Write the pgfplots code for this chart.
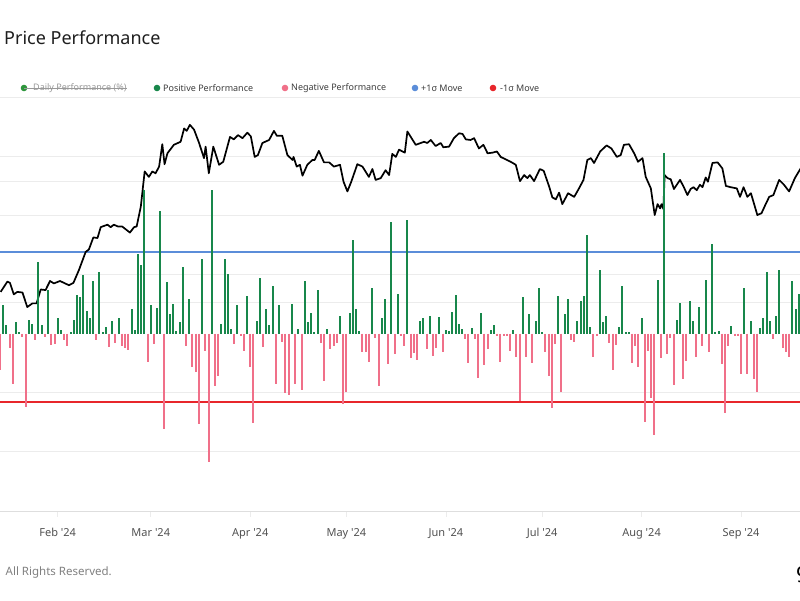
\documentclass[border=0pt]{standalone}
\usepackage{pgfplots}
\pgfplotsset{compat=1.18}
\usepackage{fontspec}
\setmainfont{Noto Sans}
\definecolor{posgreen}{RGB}{24,135,75}
\definecolor{negpink}{RGB}{240,112,137}
\definecolor{sigblue}{RGB}{91,141,217}
\definecolor{minusred}{RGB}{232,38,43}
\definecolor{dailygreen}{RGB}{46,150,60}
\definecolor{gridc}{RGB}{236,236,236}
\definecolor{axisc}{RGB}{222,222,222}
\definecolor{labc}{RGB}{80,80,80}
\definecolor{legc}{RGB}{60,60,60}
\definecolor{titlec}{RGB}{30,30,30}
\pgfplotsset{base/.style={at={(0pt,89pt)}, anchor=south west, width=800pt, height=414pt,
  scale only axis, xmin=13, xmax=262.4, clip=true}}
\begin{document}
\begin{tikzpicture}[x=1pt,y=1pt]
\path[use as bounding box] (0,0) rectangle (800,600);
% grid axis
\begin{axis}[base, ymin=-12, ymax=16,
  axis x line*=bottom, axis y line*=left,
  y axis line style={draw=none}, ytick style={draw=none}, yticklabels={},
  ytick={-8,-4,2.14,4,8,10.27,12,16}, ymajorgrids,
  major grid style={draw=gridc, line width=0.8pt},
  x axis line style={draw=axisc, line width=0.8pt, -},
  xtick={31,60,91,121,152,182,213,244},
  xticklabels={Feb \textquotesingle24, Mar \textquotesingle24, Apr \textquotesingle24, May \textquotesingle24, Jun \textquotesingle24, Jul \textquotesingle24, Aug \textquotesingle24, Sep \textquotesingle24},
  xtick style={draw=gridc, line width=0.6pt}, tick align=outside, major tick length=6pt,
  xticklabel style={font=\fontsize{11}{13}\selectfont, text=labc, yshift=-8pt},
  /pgf/number format/assume math mode=true]
\addplot[draw=none] coordinates {(13,0)};
\end{axis}
% sigma lines
\begin{axis}[base, ymin=-12, ymax=16, hide axis]
\addplot[draw=minusred, line width=2pt] table[row sep=\\] {x y\\ 12 -4.6\\ 263 -4.6\\};
\addplot[draw=sigblue, line width=2pt] table[row sep=\\] {x y\\ 12 5.5\\ 263 5.5\\};
\end{axis}
% price axis
\begin{axis}[base, ymin=5.8, ymax=74.2, hide axis]
\addplot[black, line width=1.7pt, line join=round] coordinates {
(13.2,42.0)(15.3,43.7)(16.1,43.5)(17.3,41.6)(18.4,42.0)(20.0,41.9)(21.5,39.5)(23.1,40.1)(24.4,40.1)(25.7,42.4)
(27.2,42.3)(28.6,43.8)(29.8,43.4)(31.7,43.8)(32.9,43.5)(34.5,43.1)(35.9,43.5)(37.6,45.6)(39.7,48.6)(40.7,49.0)
(42.1,51.0)(43.4,50.9)(44.4,52.7)(46.5,53.1)(47.5,52.7)(48.5,53.1)(49.8,52.8)(51.1,52.8)(53.5,51.8)(54.8,52.7)
(55.6,52.8)(56.9,56.1)(58.1,61.9)(59.4,61.0)(60.5,61.9)(61.5,61.6)(62.6,62.7)(63.6,66.4)(64.3,63.1)(65.2,64.9)
(67.2,66.3)(69.3,66.8)(70.4,69.0)(71.2,68.6)(72.2,69.6)(73.5,68.8)(75.0,66.7)(76.6,64.1)(77.1,66.0)(78.1,61.6)
(79.5,66.0)(81.3,63.0)(82.6,63.5)(84.7,67.6)(85.9,67.2)(87.2,67.9)(88.6,67.4)(90.1,68.3)(91.2,67.7)(92.4,64.3)
(93.4,64.6)(94.8,66.6)(96.9,67.1)(98.4,68.6)(99.3,67.8)(101.0,67.8)(102.6,64.6)(104.2,63.8)(104.5,64.3)(105.5,62.7)
(106.5,63.0)(107.3,61.2)(108.8,63.0)(110.4,63.8)(111.1,63.8)(112.4,65.3)(114.0,63.4)(115.6,63.4)(117.1,62.7)(119.0,63.0)
(120.1,60.2)(121.3,58.6)(122.5,60.2)(124.4,63.1)(126.0,62.7)(128.0,61.0)(129.1,62.3)(130.1,60.5)(131.7,60.8)(133.2,62.1)
(134.3,61.3)(135.3,64.8)(136.4,64.3)(137.4,65.5)(139.2,65.0)(140.0,68.5)(142.6,66.3)(145.2,66.8)(146.2,66.6)(147.3,67.1)
(148.8,66.1)(150.4,66.6)(151.2,65.9)(153.0,66.0)(154.5,67.4)(156.1,68.2)(157.2,68.1)(158.2,67.2)(159.7,67.1)(160.8,67.4)
(162.3,65.7)(163.7,66.3)(165.0,64.9)(166.5,65.0)(167.9,65.2)(169.1,64.3)(171.0,63.8)(172.2,63.5)(173.8,63.0)(175.1,60.3)
(176.4,61.3)(177.4,60.8)(178.2,61.3)(179.5,60.3)(181.3,62.3)(182.5,62.0)(184.2,59.4)(185.2,57.6)(186.3,57.3)(187.3,58.4)
(188.3,56.5)(190.1,58.3)(192.0,57.7)(193.5,59.1)(194.9,60.5)(196.1,63.8)(197.2,64.1)(198.2,63.3)(200.1,65.2)(202.1,66.2)
(203.6,65.7)(205.3,64.3)(206.5,64.6)(207.5,66.3)(209.1,66.4)(210.7,64.9)(211.9,63.5)(213.3,64.1)(214.3,61.0)(215.9,59.1)
(217.1,54.7)(218.0,56.5)(218.8,55.8)(219.2,56.5)(219.8,55.7)(220.2,61.3)(221.1,60.8)(222.1,60.6)(223.1,59.0)(225.0,60.5)
(226.1,59.4)(227.3,58.0)(228.3,59.0)(229.2,59.3)(230.2,58.8)(231.2,59.7)(232.0,59.3)(233.0,60.9)(233.7,60.2)(235.1,63.3)
(236.7,63.4)(238.2,62.4)(239.3,59.5)(240.8,59.3)(242.7,59.1)(243.7,57.7)(244.8,59.3)(246.0,57.7)(247.1,58.3)(249.1,54.7)
(250.4,55.0)(251.7,56.5)(252.8,57.7)(254.1,58.0)(255.9,60.5)(257.4,59.7)(259.0,58.6)(260.8,60.8)(262.6,62.4)
};
\end{axis}
% performance bars
\begin{axis}[base, ymin=-12, ymax=16, hide axis]
\addplot[ycomb, draw=posgreen, line width=2pt, mark=none] coordinates {
(14,1.93)(15,0.58)(18,0.81)(19,0.14)(22,0.95)(23,0.64)(25,4.81)(26,0.58)(28,2.92)(31,1.02)(32,0.27)(35,0.14)(36,0.95)
(37,2.61)(38,2.44)(39,3.93)(40,1.56)(41,1.05)(42,3.53)(44,4.14)(45,0.14)(46,0.47)(48,0.88)(50,1.02)(54,1.66)(55,0.27)
(56,5.39)(57,4.61)(58,9.69)(60,1.93)(62,1.76)(63,8.27)(65,3.46)(66,1.29)(67,2.03)(68,0.2)(69,0.75)(70,4.47)(72,2.34)
(76,5.05)(79,9.73)(82,0.68)(83,5.02)(84,4.0)(85,0.3)(87,1.9)(90,2.51)(93,0.88)(94,3.73)(96,1.69)(97,0.61)(98,3.19)(100,1.9)
(104,1.97)(106,0.34)(108,3.56)(109,0.75)(110,1.36)(111,0.14)(112,2.92)(115,0.34)(119,1.22)(122,1.39)(123,6.34)(124,1.63)
(125,0.2)(129,3.08)(132,1.08)(133,2.31)(135,7.53)(137,2.68)(140,7.66)(144,0.88)(145,1.02)(147,1.22)(150,1.15)(152,0.27)
(153,0.2)(154,1.49)(155,2.61)(156,0.68)(157,0.3)(160,0.41)(163,1.36)(166,0.27)(167,0.61)(173,0.27)(176,2.44)(178,1.29)(180,0.88)
(181,3.08)(182,0.14)(187,2.51)(189,1.29)(190,2.31)(193,0.88)(194,2.2)(195,2.51)(196,6.64)(197,0.47)(200,4.27)(201,0.75)
(202,1.22)(206,0.47)(207,3.25)(208,0.14)(209,0.14)(213,1.02)(218,3.63)(220,12.24)(224,0.95)(225,2.07)(228,2.2)(229,0.85)
(231,1.8)(233,3.59)(235,6.03)(236,0.14)(237,0.2)(241,0.54)(245,3.05)(247,0.85)(250,0.41)(251,1.08)(252,4.14)(253,0.88)
(255,1.22)(256,4.27)(260,3.53)(261,1.63)(262,2.68)
};
\addplot[ycomb, draw=negpink, line width=2pt, mark=none] coordinates {
(13,-2.44)(16,-0.98)(17,-3.42)(20,-0.2)(21,-4.95)(24,-0.41)(27,-0.2)(29,-0.75)(30,-0.68)(33,-0.41)(34,-0.81)(43,-0.41)
(47,-0.92)(49,-0.61)(51,-0.81)(52,-0.98)(53,-1.12)(59,-1.93)(61,-0.68)(64,-6.47)(71,-0.85)(73,-2.27)(74,-2.58)(75,-6.14)
(77,-1.19)(78,-8.68)(80,-3.53)(81,-2.85)(86,-0.68)(88,-0.14)(89,-1.15)(91,-2.27)(92,-6.07)(95,-0.92)(99,-3.39)(101,-0.59)
(102,-4.0)(103,-4.14)(105,-3.39)(107,-3.8)(113,-0.61)(114,-3.19)(116,-1.02)(117,-0.81)(118,-0.61)(120,-4.75)(121,-3.93)
(126,-1.27)(127,-1.27)(128,-1.9)(130,-0.3)(131,-3.53)(134,-2.03)(136,-1.36)(138,-0.14)(139,-0.86)(141,-1.67)(142,-1.34)
(143,-1.76)(146,-1.02)(148,-1.49)(149,-1.0)(151,-1.22)(158,-0.34)(159,-1.97)(161,-0.34)(162,-3.03)(164,-2.1)(165,-1.02)
(168,-0.14)(169,-1.95)(170,-0.14)(171,-0.14)(172,-1.15)(174,-1.61)(175,-4.54)(177,-1.61)(179,-1.97)(183,-1.22)(184,-2.85)
(185,-5.0)(186,-0.68)(188,-3.93)(191,-0.41)(192,-0.59)(198,-1.61)(199,-0.14)(203,-0.61)(204,-2.44)(205,-0.75)(210,-2.01)
(211,-0.81)(212,-2.24)(214,-6.01)(215,-1.15)(216,-4.34)(217,-6.85)(219,-1.67)(221,-1.36)(222,-0.3)(223,-3.46)(226,-3.05)
(227,-1.83)(230,-1.61)(232,-0.81)(234,-1.27)(238,-2.03)(239,-5.34)(240,-0.81)(242,-0.14)(243,-0.14)(244,-2.71)(246,-2.71)
(248,-3.05)(249,-3.93)(254,-0.34)(257,-1.0)(258,-1.27)(259,-1.61)
};
\end{axis}
% title
\node[anchor=base west, inner sep=0pt, font=\fontsize{18}{22}\selectfont, text=titlec] at (4,555) {Price Performance};
% legend
\begin{scope}[font=\fontsize{9}{11}\selectfont]
\fill[dailygreen] (24,512) circle (3.3);
\node[anchor=west, inner sep=0pt, text=gray!80] (d1) at (33,512) {Daily Performance (\%)};
\draw[gray!80, line width=0.5pt] (24,512) -- (d1.east);
\fill[posgreen] (157,512) circle (3.3);
\node[anchor=west, inner sep=0pt, text=legc] at (163,512) {Positive Performance};
\fill[negpink] (285,512) circle (3.3);
\node[anchor=west, inner sep=0pt, text=legc] at (291,512) {Negative Performance};
\fill[sigblue] (415,512) circle (3.3);
\node[anchor=west, inner sep=0pt, text=legc] at (421,512) {+1σ Move};
\fill[minusred] (493,512) circle (3.3);
\node[anchor=west, inner sep=0pt, text=legc] at (500,512) {-1σ Move};
\end{scope}
% footer
\node[anchor=east, inner sep=0pt, font=\fontsize{11.5}{13}\selectfont, text=gray] at (112,27) {All Rights Reserved.};
\node[anchor=west, inner sep=0pt, font=\bfseries\fontsize{22}{24}\selectfont] at (796,25) {9};
\end{tikzpicture}
\end{document}
